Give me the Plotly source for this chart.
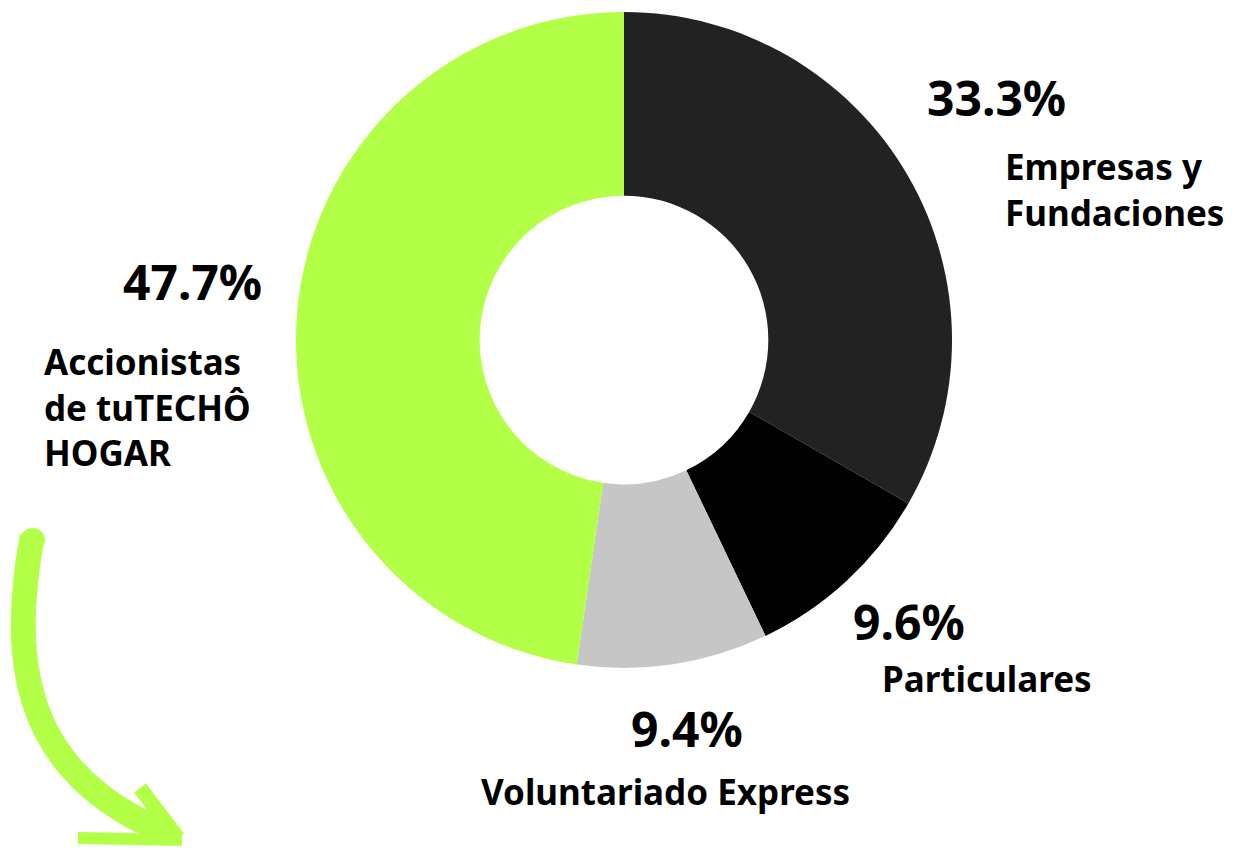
import plotly.graph_objects as go

categories = ["Empresas y Fundaciones", "Particulares", "Voluntariado Express", "Accionistas de tuTECHÔ HOGAR"]
values = [33.3, 9.6, 9.4, 47.7]
pct_labels = ["33.3%", "9.6%", "9.4%", "47.7%"]
colors = ["#222222", "#000000", "#c6c6c6", "#b3ff47"]

W, H = 1238, 849
def px(x, y):
    return x / W, 1 - y / H

cx, cy, r = 624, 340, 328
fig = go.Figure(go.Pie(
    labels=categories, values=values, sort=False, direction="clockwise", rotation=0,
    hole=0.44, marker=dict(colors=colors, line=dict(width=0)),
    textinfo="none", hoverinfo="label+percent", showlegend=False,
    domain=dict(x=[(cx - r) / W, (cx + r) / W], y=[1 - (cy + r) / H, 1 - (cy - r) / H]),
))

FONT = "Noto Sans"
ann = []
items = [
    (pct_labels[0], (996, 97), "Empresas y<br>Fundaciones", (1003, 189), "left"),
    (pct_labels[1], (909, 621), "Particulares", (987, 678), "center"),
    (pct_labels[2], (687, 728), "Voluntariado Express", (666, 791), "center"),
    (pct_labels[3], (192, 281), "Accionistas<br>de tuTECHÔ<br>HOGAR", (42, 407), "left"),
]
for pt, (px_, py_), lt, (lx, ly), anc in items:
    x, y = px(px_, py_)
    ann.append(dict(text=f"<b>{pt}</b>", x=x, y=y, xref="paper", yref="paper",
                    xanchor="center", yanchor="middle", showarrow=False,
                    font=dict(family=FONT, size=48, color="#000000")))
    x, y = px(lx, ly)
    ann.append(dict(text=f"<b>{lt}</b>", x=x, y=y, xref="paper", yref="paper",
                    xanchor=anc, yanchor="middle", align="left", showarrow=False,
                    font=dict(family=FONT, size=35, color="#000000")))

def path(cmds):
    out = []
    for c in cmds:
        if isinstance(c, str):
            out.append(c)
        else:
            x, y = px(*c)
            out.append(f"{x:.5f},{y:.5f}")
    return " ".join(out)

green = "#b3ff47"
shapes = [
    dict(type="path", xref="paper", yref="paper",
         path=path(["M", (32, 537), "C", (12, 650), (15, 770), (165, 832)]),
         line=dict(color=green, width=25)),
    dict(type="circle", xref="paper", yref="paper",
         x0=px(20, 0)[0], x1=px(45, 0)[0], y0=px(0, 528)[1], y1=px(0, 552)[1],
         fillcolor=green, line=dict(width=0)),
    dict(type="path", xref="paper", yref="paper",
         path=path(["M", (140, 788), "L", (178, 838)]),
         line=dict(color=green, width=15)),
    dict(type="path", xref="paper", yref="paper",
         path=path(["M", (78, 838), "L", (182, 840)]),
         line=dict(color=green, width=12)),
]

fig.update_layout(
    width=W, height=H, margin=dict(l=0, r=0, t=0, b=0),
    paper_bgcolor="white", plot_bgcolor="white",
    annotations=ann, shapes=shapes,
)
fig.write_html("out.html")
